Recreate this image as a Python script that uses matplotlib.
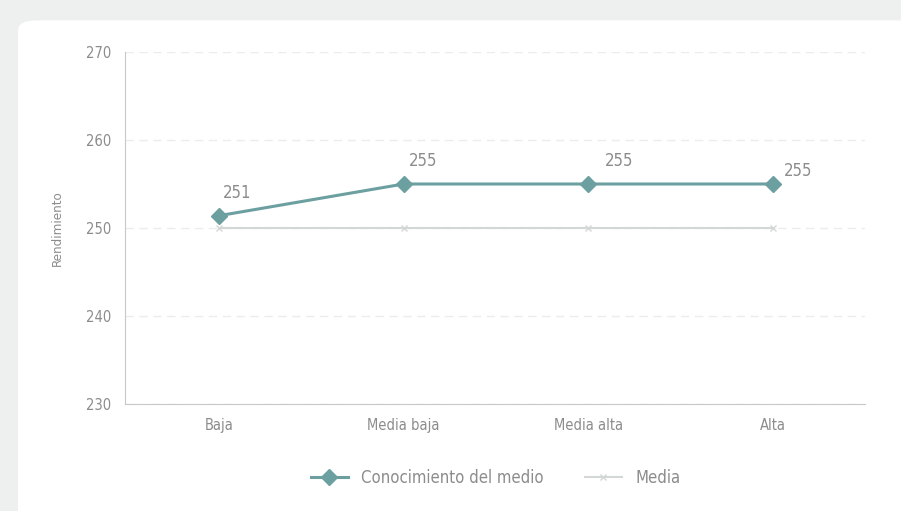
import matplotlib
matplotlib.use("Agg")
import matplotlib.pyplot as plt
from matplotlib.patches import FancyBboxPatch

categorias = ["Baja", "Media baja", "Media alta", "Alta"]
conocimiento = [251.4, 255, 255, 255]
etiquetas = ["251", "255", "255", "255"]
media = [250, 250, 250, 250]

plt.rcParams['font.family'] = ['DejaVu Sans']
plt.rcParams['font.stretch'] = 'condensed'

gris = '#8c8c8c'
verde = '#6c9fa0'

fig = plt.figure(figsize=(9.01, 5.11), dpi=100, facecolor='#eef0ef')
# panel blanco de fondo
fig.patches.append(FancyBboxPatch((0.02, -0.05), 1.0, 1.01, boxstyle="round,pad=0,rounding_size=0.02",
                                  transform=fig.transFigure, facecolor='white', edgecolor='none', zorder=-5))

ax = fig.add_axes([125 / 901, 1 - 404 / 511, 740 / 901, 352 / 511])
ax.set_zorder(2)
ax.set_facecolor('none')
x = range(len(categorias))

ax.plot(x, media, color='#d3d8d7', lw=1.5, marker='x', ms=5, mew=1, label='Media', zorder=2)
ax.plot(x, conocimiento, color=verde, lw=2.2, marker='D', ms=8, label='Conocimiento del medio', zorder=3)

offsets = [(13, 10), (14, 10), (22, 10), (18, 3)]
for i, (v, t) in enumerate(zip(conocimiento, etiquetas)):
    ax.annotate(t, (i, v), xytext=offsets[i], textcoords='offset points', ha='center', va='bottom',
                fontsize=12, color=gris)

ax.set_xlim(-0.51, 3.5)
ax.set_ylim(230, 270)
ax.set_yticks([230, 240, 250, 260, 270])
ax.set_xticks(list(x))
ax.set_xticklabels(categorias)
ax.tick_params(length=0, colors=gris, labelsize=10.5, pad=10)
ax.tick_params(axis='x', pad=10)
ax.grid(axis='y', color='#ececec', lw=1, ls=(0, (6, 4)))
ax.set_axisbelow(True)
for s in ['top', 'right']:
    ax.spines[s].set_visible(False)
for s in ['left', 'bottom']:
    ax.spines[s].set_color('#c8c8c8')
ax.set_ylabel('Rendimiento', color=gris, fontsize=9.5, labelpad=16)

h, l = ax.get_legend_handles_labels()
fig.legend(h[::-1], l[::-1], loc='center', bbox_to_anchor=(0.55, 1 - 478 / 511), ncol=2, frameon=False,
           fontsize=12, labelcolor=gris, handlelength=2.2, columnspacing=2.5)

fig.savefig('out.png', dpi=100, facecolor=fig.get_facecolor())
